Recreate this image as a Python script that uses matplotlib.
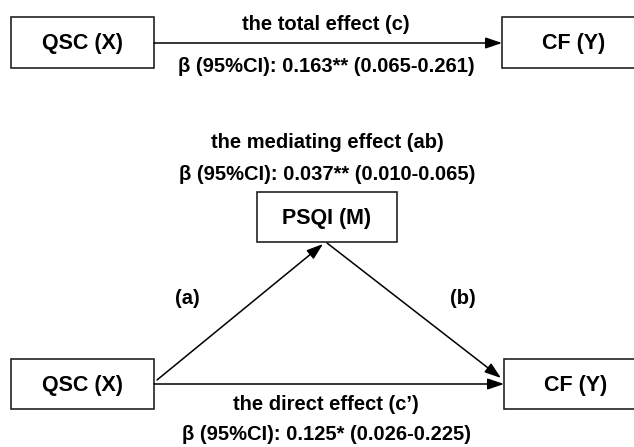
import matplotlib.pyplot as plt
from matplotlib.patches import Rectangle, FancyArrowPatch

plt.rcParams['font.family'] = ['Liberation Sans', 'DejaVu Sans']

# variables in the mediation model
node_labels = ['QSC (X)', 'CF (Y)', 'PSQI (M)']
path_labels = ['(a)', '(b)']

# effect estimates: name, beta, significance stars, 95% CI
effect_names = ['the total effect (c)', 'the mediating effect (ab)', 'the direct effect (c\u2019)']
effect_beta = [0.163, 0.037, 0.125]
effect_stars = ['**', '**', '*']
effect_ci_low = [0.065, 0.010, 0.026]
effect_ci_high = [0.261, 0.065, 0.225]

FS = 14.5


def effectText(i: int) -> str:
	return '\u03b2 (95%%CI): %.3f%s (%.3f-%.3f)' % (effect_beta[i], effect_stars[i],
		effect_ci_low[i], effect_ci_high[i])


def drawBox(ax, x0, y0, w, h, label):
	ax.add_patch(Rectangle((x0, y0), w, h, facecolor='white', edgecolor='#222222', lw=1.2))
	ax.text(x0 + w / 2, y0 + h / 2 + 1.5, label, ha='center', va='center',
		fontsize=15.5, fontweight='bold')


def drawArrow(ax, start, end):
	ax.add_patch(FancyArrowPatch(start, end, arrowstyle='-|>,head_length=0.5,head_width=0.17',
		mutation_scale=20, lw=1.1, color='black', shrinkA=0, shrinkB=0))


def label(ax, x, y, s):
	ax.text(x, y, s, ha='center', va='center', fontsize=FS, fontweight='bold')


fig = plt.figure(figsize=(6.34, 4.47), dpi=100)
ax = fig.add_axes([0, 0, 1, 1])
ax.set_xlim(0, 634)
ax.set_ylim(447, 0)
ax.axis('off')

# total effect panel
drawBox(ax, 11, 17, 143, 51, node_labels[0])
drawBox(ax, 502, 17, 143, 51, node_labels[1])
drawArrow(ax, (154, 43), (502, 43))
label(ax, 326, 24, effect_names[0])
label(ax, 326, 66, effectText(0))

# mediation panel
label(ax, 327, 142, effect_names[1])
label(ax, 327, 174, effectText(1))
drawBox(ax, 257, 192, 140, 50, node_labels[2])
drawBox(ax, 11, 359, 143, 50, node_labels[0])
drawBox(ax, 504, 359, 143, 50, node_labels[1])

drawArrow(ax, (157, 380), (323, 244))
drawArrow(ax, (327, 243), (501, 378))
drawArrow(ax, (154, 384), (504, 384))

label(ax, 187, 299, path_labels[0])
label(ax, 463, 299, path_labels[1])
label(ax, 326, 405, effect_names[2])
label(ax, 326, 434, effectText(2))

fig.savefig('out.png', dpi=100)
